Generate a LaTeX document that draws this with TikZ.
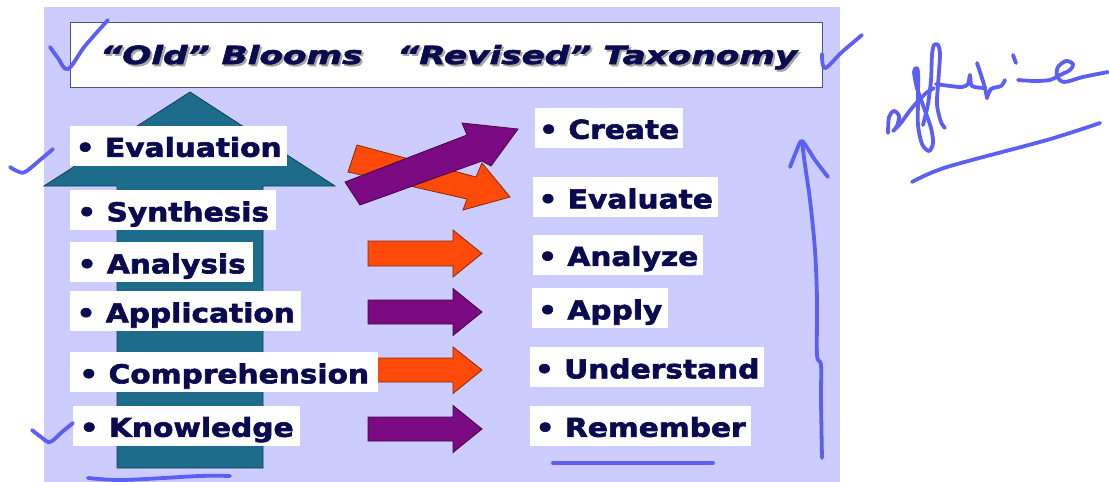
\documentclass[tikz,border=0pt]{standalone}
\usepackage{fontspec}
\usepackage{graphicx}
\newfontfamily\lblfont[FakeStretch=1.14, BoldFeatures={FakeBold=2.4}]{DejaVu Sans}
\newfontfamily\ttlfont[FakeStretch=1.37, BoldItalicFeatures={FakeBold=2.4}]{DejaVu Sans}
\definecolor{bgc}{HTML}{CCCCFF}
\definecolor{tealc}{HTML}{1E6C8B}
\definecolor{orangec}{HTML}{FF4A0A}
\definecolor{purplec}{HTML}{7B0A82}
\definecolor{navyc}{HTML}{0A0A50}
\definecolor{inkc}{HTML}{5C5FF3}
\definecolor{framec}{HTML}{505078}
\tikzset{
  lbl/.style={fill=white, inner xsep=0pt, inner ysep=0pt, minimum height=40pt,
    minimum width=#1, anchor=west, text=navyc, text height=25pt, text depth=2.4pt,
    font={\lblfont\bfseries\fontsize{26}{30}\selectfont}},
  ttl/.style={anchor=base west, text=navyc, inner sep=0pt,
    font={\ttlfont\bfseries\itshape\fontsize{25}{30}\selectfont}},
  ttlshadow/.style={ttl, text=black!35},
  orangearrow/.style={fill=orangec, draw=orangec!55!black, line width=0.8pt, line join=miter},
  purplearrow/.style={fill=purplec, draw=purplec!55!black, line width=0.8pt, line join=miter},
  ink/.style={draw=inkc, line width=3.8pt, line cap=round, line join=round},
}
\begin{document}
\begin{tikzpicture}[x=1pt,y=-1pt]
\useasboundingbox (0,0) rectangle (1109,482);
% background panel
\fill[bgc] (44,7) rectangle (840,482);
% title box
\node[draw=framec, line width=1.4pt, fill=white, minimum width=752pt, minimum height=65pt,
  anchor=north west, inner sep=0pt] (tbox) at (70,22) {};
\node[ttlshadow] (t1s) at (102,66) {“Old” Blooms};
\node[ttlshadow] (t2s) at (399,66) {“Revised” Taxonomy};
\node[ttl] (t1) at (100,64) {“Old” Blooms};
\node[ttl] (t2) at (397,64) {“Revised” Taxonomy};
% big teal arrow
\filldraw[fill=tealc, draw=tealc!60!black, line width=0.8pt]
  (117,468) -- (117,186) -- (44,186) -- (190,92) -- (335,186) -- (263,186) -- (263,468) -- cycle;
% horizontal arrows
\filldraw[orangearrow] (368,241) -- (453,241) -- (453,230) -- (482,253.5) -- (453,277) -- (453,266) -- (368,266) -- cycle;
\filldraw[purplearrow] (368,300) -- (453,300) -- (453,288.5) -- (482,312) -- (453,335.5) -- (453,324) -- (368,324) -- cycle;
\filldraw[orangearrow] (368,358) -- (453,358) -- (453,347) -- (482,370) -- (453,393.5) -- (453,382) -- (368,382) -- cycle;
\filldraw[purplearrow] (368,417) -- (453,417) -- (453,405.5) -- (482,429) -- (453,452.5) -- (453,441) -- (368,441) -- cycle;
% crossed arrows
\filldraw[orangearrow] (357,145) -- (476,177) -- (482,163) -- (510,197) -- (463,210) -- (467,199) -- (348,172) -- cycle;
\filldraw[purplearrow] (345,182) -- (467,135) -- (462,123) -- (518,129) -- (491,166) -- (482,161) -- (360,205) -- cycle;
% left labels
\node[lbl=217pt] (evaluation) at (70,145.5) {• Evaluation};
\node[lbl=206pt] (synthesis) at (70,210) {• Synthesis};
\node[lbl=183pt] (analysis) at (70,262) {• Analysis};
\node[lbl=231pt] (application) at (70,311) {• Application};
\node[lbl=308pt] (comprehension) at (70,372) {• Comprehension};
\node[lbl=227pt] (knowledge) at (73,425.5) {• Knowledge};
% right labels
\node[lbl=148pt] (create) at (535,127.5) {• Create};
\node[lbl=185pt] (evaluate) at (533,197) {• Evaluate};
\node[lbl=170pt] (analyze) at (533,254.5) {• Analyze};
\node[lbl=136pt] (apply) at (532,308) {• Apply};
\node[lbl=234pt] (understand) at (530,367) {• Understand};
\node[lbl=221pt] (remember) at (530,425.5) {• Remember};
% handwritten annotations
\draw[ink] plot[smooth, tension=0.6] coordinates {(50,47) (58,58) (68,69) (85,46) (108,20)};
\draw[ink] plot[smooth, tension=0.6] coordinates {(10,167) (17,171) (25,172) (40,160) (53,149)};
\draw[ink] plot[smooth, tension=0.6] coordinates {(32,430) (41,437) (50,442) (62,432) (73,423)};
\draw[ink] plot[smooth, tension=0.6] coordinates {(822,54) (825,68) (842,52) (862,35)};
\draw[ink] plot[smooth, tension=0.5] coordinates {(822,458) (821,400) (821,365) (817,355) (817,300) (815,250) (810,200) (805,165) (802,142)};
\draw[ink] plot[smooth, tension=0.4] coordinates {(790,167) (796,152) (802,141) (815,160) (828,177)};
\draw[ink] plot[smooth, tension=0.5] coordinates {(88,478) (123,480) (200,476) (230,476)};
\draw[ink] (553,463) -- (713,463);
\draw[ink] plot[smooth, tension=0.5] coordinates {(912,182) (947,167) (1047,140) (1100,123)};
% "affective" scribble
\draw[ink] plot[smooth, tension=0.5] coordinates {(888,133) (889,117) (894,111) (899,116) (897,126) (893,131) (900,124) (912,108) (925,94) (934,88)};
\draw[ink] plot[smooth, tension=0.5] coordinates {(916,68) (918,72) (918,100) (918,125) (922,144) (929,151) (933,143) (931,128) (924,108) (917,88) (914,72) (916,68)};
\draw[ink] plot[smooth, tension=0.5] coordinates {(923,125) (928,104) (931,80) (932,55) (934,45) (938,45) (940,55) (938,85) (937,105) (941,122) (945,128)};
\draw[ink] plot[smooth, tension=0.5] coordinates {(936,84) (950,86) (962,87) (968,84) (970,75) (972,86) (985,88)};
\draw[ink] plot[smooth, tension=0.5] coordinates {(977,63) (981,75) (985,88) (987,98)};
\draw[ink] plot[smooth, tension=0.5] coordinates {(987,98) (991,89) (1001,86) (1005,80)};
\draw[ink] (1013,55) -- (1016,63);
\draw[ink] plot[smooth, tension=0.5] coordinates {(1018,80) (1035,81) (1050,80) (1058,76) (1070,70) (1073,64) (1066,61) (1058,67) (1057,76) (1064,82) (1083,77) (1108,72)};
\end{tikzpicture}
\end{document}
